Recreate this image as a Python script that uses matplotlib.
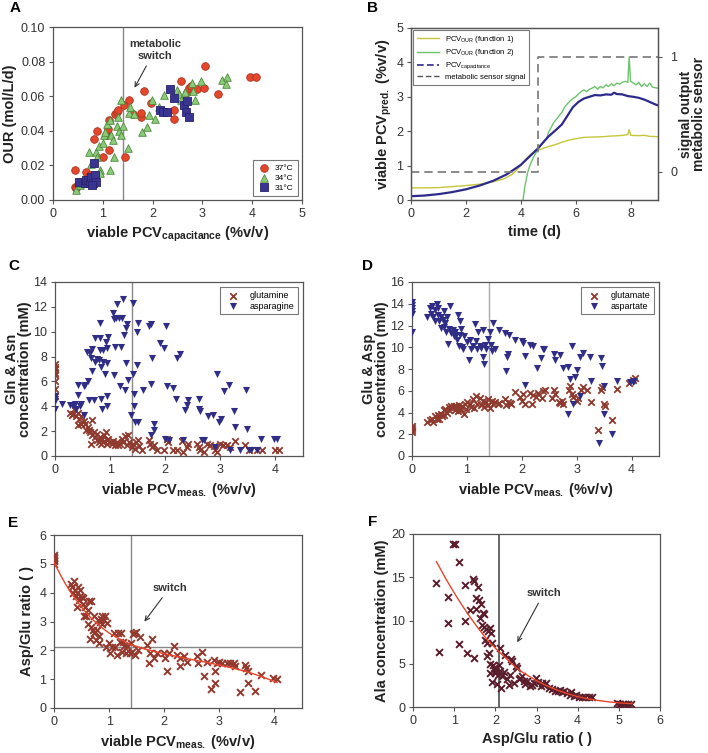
import numpy as np
import matplotlib.pyplot as plt
from matplotlib.lines import Line2D

plt.rcParams['font.family'] = ['Liberation Sans', 'DejaVu Sans']
plt.rcParams['mathtext.fontset'] = 'custom'
plt.rcParams['mathtext.rm'] = 'Liberation Sans'
plt.rcParams['mathtext.bf'] = 'Liberation Sans:bold'
plt.rcParams['mathtext.it'] = 'Liberation Sans:italic'

# ---------- panel A : OUR vs viable PCV (capacitance) ----------
a37_x = [0.44,0.44,0.47,0.50,0.57,0.64,0.67,0.74,0.80,0.83,0.89,1.00,1.07,1.10,1.13,1.12,1.24,1.28,1.31,1.42,1.44,
         1.53,1.61,1.76,1.77,1.83,1.96,2.57,2.42,2.42,2.70,2.73,2.77,2.89,3.03,3.05,3.32,3.95,4.08]
a37_y = [0.0173,0.0077,0.0067,0.0087,0.0096,0.0106,0.0163,0.0144,0.0106,0.035,0.040,0.025,0.0375,0.041,0.046,0.029,
         0.050,0.051,0.052,0.055,0.025,0.058,0.050,0.048,0.0505,0.063,0.056,0.069,0.052,0.047,0.0625,0.0645,0.066,
         0.064,0.065,0.0775,0.061,0.071,0.071]
a34_x = [0.47,0.54,0.59,0.72,0.77,0.87,0.89,0.92,0.94,0.95,1.00,1.02,1.05,1.09,1.14,1.15,1.17,1.21,1.22,1.28,1.31,
         1.33,1.36,1.36,1.40,1.51,1.53,1.54,1.62,1.78,1.88,1.93,1.99,2.05,2.13,2.23,2.48,2.54,2.58,2.66,2.79,2.82,
         2.85,2.97,3.39,3.49,3.47]
a34_y = [0.0058,0.0087,0.0096,0.028,0.021,0.028,0.025,0.031,0.0173,0.0154,0.0327,0.0375,0.0394,0.0438,0.046,0.0173,
         0.0375,0.0346,0.025,0.043,0.048,0.040,0.0577,0.0375,0.043,0.0298,0.0504,0.054,0.050,0.0394,0.042,0.049,
         0.0577,0.047,0.054,0.0606,0.0635,0.0615,0.058,0.0625,0.0677,0.063,0.058,0.0688,0.0696,0.071,0.0673]
a31_x = [0.52,0.64,0.66,0.70,0.74,0.77,0.81,0.83,0.85,0.87,0.79,2.15,2.21,2.28,2.35,2.43,2.64,2.70,2.68,2.74]
a31_y = [0.0106,0.0096,0.0115,0.0115,0.010,0.0135,0.0096,0.0215,0.0144,0.0106,0.0087,0.052,0.051,0.0506,0.0644,
         0.059,0.0548,0.057,0.0506,0.0477]

# ---------- panel B : predicted PCV over time ----------
t_cap = [0,0.5,1,1.5,2,2.5,3,3.5,4,4.3,4.6,5,5.3,5.5,5.7,5.9,6.1,6.3,6.5,6.7,6.9,7.1,7.3,7.4,7.5,7.7,7.9,8.1,
         8.3,8.5,8.7,8.9,9.0]
pcv_cap = [0.11,0.13,0.17,0.23,0.31,0.42,0.56,0.75,1.02,1.25,1.48,1.84,2.05,2.2,2.45,2.7,2.85,2.95,3.0,3.05,3.04,
           3.07,3.06,3.12,3.08,3.07,3.02,3.0,2.97,2.92,2.85,2.78,2.75]
t_f1 = [0,1,2,2.5,3,3.4,3.7,4.0,4.2,4.4,4.6,4.8,5.0,5.3,5.5,5.8,6.0,6.3,6.6,7.0,7.3,7.6,7.9,7.95,8.0,8.3,8.5,
        8.7,9.0]
pcv_f1 = [0.35,0.36,0.42,0.46,0.53,0.62,0.75,1.0,1.2,1.35,1.43,1.5,1.55,1.62,1.68,1.75,1.78,1.82,1.83,1.84,1.86,
          1.87,1.9,2.05,1.88,1.87,1.88,1.85,1.84]
t_f2 = [4.08,4.15,4.25,4.35,4.5,4.65,4.8,4.95,5.0,5.1,5.2,5.3,5.4,5.5,5.6,5.7,5.8,5.9,6.0,6.1,6.2,6.3,6.4,6.5,
        6.6,6.7,6.8,6.9,7.0,7.1,7.2,7.3,7.4,7.5,7.6,7.7,7.8,7.9,7.95,8.0,8.1,8.2,8.3,8.4,8.5,8.6,8.7,8.8,9.0]
pcv_f2 = [0.0,0.4,0.8,1.05,1.3,1.5,1.65,1.8,1.95,2.1,2.25,2.35,2.45,2.55,2.7,2.8,2.88,2.95,3.0,3.08,3.15,3.2,3.15,
          3.22,3.25,3.3,3.22,3.3,3.26,3.35,3.3,3.38,3.32,3.4,3.37,3.42,3.45,3.42,4.15,3.45,3.4,3.35,3.42,3.3,
          3.38,3.3,3.4,3.28,3.25]
t_sig = [0, 4.62, 4.62, 9.0]
sig = [0, 0, 1, 1]

# ---------- panel C : Gln & Asn ----------
asn_x = [0,0,0,0,0.12,0.28,0.32,0.36,0.38,0.41,0.41,0.45,0.48,0.52,0.52,0.55,0.58,0.59,0.61,0.64,0.65,0.67,0.68,
         0.70,0.72,0.73,0.76,0.79,0.81,0.82,0.82,0.83,0.84,0.85,0.87,0.88,0.91,0.93,0.94,0.94,0.95,0.97,0.95,1.06,
         1.07,1.09,1.11,1.12,1.07,1.17,1.19,1.18,1.21,1.23,1.25,1.27,1.29,1.30,1.29,1.33,1.38,1.41,1.42,1.44,1.44,
         1.45,1.50,1.48,1.48,1.50,1.59,1.71,1.74,1.74,1.76,1.79,1.74,1.80,1.90,1.98,2.02,2.03,2.00,2.06,2.14,2.19,
         2.21,2.27,2.32,2.36,2.39,2.42,2.61,2.61,2.63,2.67,2.71,2.77,2.87,2.91,2.94,2.97,3.01,3.07,3.15,3.24,3.27,
         3.47,3.48,3.52,3.56,3.67,3.74,3.97,4.03,3.18,3.36]
asn_y = [4.8,4.4,3.8,4.6,4.2,4.1,4.0,4.2,3.8,4.9,5.7,4.0,4.2,3.3,5.6,5.7,8.4,6.0,4.5,8.3,7.9,8.6,6.8,4.5,7.6,9.5,
         7.8,7.7,9.5,10.7,8.5,7.2,4.6,3.8,7.6,8.5,6.6,9.2,7.5,4.8,8.7,9.6,4.0,11.5,11.0,8.8,11.1,12.2,6.5,11.1,8.8,
         5.6,11.1,12.6,9.7,5.3,10.3,10.6,7.5,6.1,3.3,12.3,6.6,4.0,5.0,2.7,2.7,7.3,10.0,10.7,5.3,10.5,10.6,5.8,7.9,
         2.6,1.7,2.1,9.1,8.7,10.5,5.6,1.4,1.3,5.5,4.6,7.9,8.2,1.3,3.7,4.1,4.5,4.6,3.8,3.6,1.3,1.3,3.2,3.3,0.7,6.6,
         2.7,3.0,5.2,5.7,3.6,2.3,5.3,2.2,0.5,0.5,0.5,1.4,1.4,1.4,0.5,0.5]
gln_x = [0,0,0,0,0,0,0,0,0.28,0.30,0.33,0.36,0.38,0.41,0.42,0.44,0.47,0.48,0.52,0.55,0.56,0.59,0.62,0.64,0.65,
         0.67,0.68,0.71,0.73,0.76,0.77,0.79,0.81,0.82,0.84,0.85,0.87,0.89,0.93,0.94,0.95,0.97,1.00,1.03,1.06,1.09,
         1.12,1.15,1.18,1.21,1.24,1.27,1.30,1.33,1.35,1.39,1.42,1.45,1.47,1.50,1.53,1.58,1.70,1.72,1.76,1.80,1.85,
         1.97,2.03,2.05,2.15,2.21,2.30,2.32,2.39,2.42,2.58,2.61,2.64,2.70,2.76,2.82,2.88,2.91,2.94,3.00,3.05,3.12,
         3.18,3.27,3.45,3.52,3.67,3.76,4.00,4.06]
gln_y = [7.4,7.2,7.0,6.7,6.5,6.0,5.4,4.8,3.5,3.3,3.4,3.7,3.2,3.5,2.5,3.0,3.2,2.6,2.8,2.6,2.1,2.3,2.1,1.9,1.0,2.9,
         1.7,1.9,1.5,1.8,1.3,1.1,1.5,1.3,1.0,1.4,1.1,1.7,1.9,1.3,1.0,1.4,1.1,1.0,1.2,0.9,1.1,0.9,1.0,1.4,1.1,1.6,
         0.9,1.7,1.1,0.7,1.0,0.6,1.1,1.3,0.8,0.5,1.3,1.0,0.7,0.9,0.5,0.5,1.4,1.1,0.5,0.5,1.2,0.3,0.7,1.0,1.0,0.7,
         0.5,0.3,1.0,0.9,0.8,0.5,0.3,1.0,0.9,0.9,0.7,1.2,0.9,0.5,0.5,0.5,0.5,0.5]

# ---------- panel D : Glu & Asp ----------
asp_x = [0,0,0,0,0,0,0.27,0.32,0.35,0.36,0.39,0.41,0.42,0.45,0.47,0.48,0.50,0.52,0.53,0.56,0.58,0.59,0.61,0.62,
         0.64,0.65,0.67,0.70,0.71,0.74,0.76,0.78,0.80,0.82,0.83,0.85,0.87,0.88,0.89,0.91,0.93,0.94,1.00,1.03,1.05,
         1.07,1.11,1.15,1.17,1.19,1.21,1.23,1.25,1.29,1.30,1.32,1.33,1.35,1.39,1.42,1.44,1.45,1.48,1.52,1.58,1.70,
         1.73,1.74,1.76,1.72,1.88,2.00,2.03,2.06,2.06,2.15,2.21,2.27,2.35,2.38,2.41,2.58,2.61,2.70,2.76,2.85,2.88,
         2.85,2.91,2.94,2.97,3.01,3.06,3.12,3.24,3.27,3.06,3.44,3.47,3.50,3.50,3.41,3.64,3.74,3.97,4.02,4.05]
asp_y = [14.2,13.9,13.6,13.3,13.1,11.4,12.8,13.6,13.1,13.8,12.8,12.4,13.4,14.0,13.0,13.6,12.4,11.8,12.8,12.5,11.9,
         13.3,12.2,11.4,12.8,10.3,11.7,13.8,11.3,11.6,11.0,11.4,11.1,10.7,13.0,10.1,12.4,11.1,11.7,10.0,9.8,11.0,
         10.5,8.8,10.7,9.8,10.1,12.1,10.6,9.8,11.4,10.1,9.9,11.6,9.1,8.5,10.2,9.8,10.8,11.4,10.2,9.7,12.2,9.8,11.6,
         11.3,9.1,9.4,11.1,7.8,10.7,10.6,10.4,9.2,6.5,10.2,10.1,8.1,9.0,9.8,9.8,9.4,8.8,9.3,8.1,8.2,7.1,3.9,10.1,
         4.8,7.3,7.9,9.1,9.5,9.1,6.9,5.5,9.0,8.3,6.4,3.9,1.2,2.0,6.9,6.8,6.8,6.9]
glu_x = [0,0,0,0,0.27,0.32,0.36,0.39,0.42,0.45,0.48,0.50,0.53,0.55,0.58,0.59,0.61,0.64,0.67,0.68,0.71,0.73,0.76,
         0.78,0.81,0.83,0.85,0.87,0.89,0.91,0.94,0.96,0.99,1.01,1.05,1.07,1.11,1.13,1.17,1.19,1.23,1.25,1.29,1.32,
         1.35,1.38,1.39,1.42,1.45,1.48,1.52,1.56,1.59,1.70,1.72,1.74,1.78,1.80,1.88,1.97,2.00,2.02,2.06,2.15,2.18,
         2.21,2.26,2.30,2.36,2.39,2.42,2.55,2.58,2.61,2.67,2.70,2.73,2.76,2.86,2.88,2.91,2.94,3.00,3.03,3.07,3.12,
         3.18,3.26,3.39,3.44,3.47,3.50,3.52,3.64,3.74,3.96,4.03,4.06]
glu_y = [2.8,2.6,2.4,2.2,3.1,3.3,3.4,3.1,3.7,3.4,3.8,3.4,3.9,3.7,4.2,3.8,4.3,4.0,4.5,4.2,4.6,4.4,4.6,4.2,4.6,4.1,
         4.7,4.4,4.2,4.6,3.9,4.8,4.3,5.0,4.8,4.5,5.2,4.4,5.5,4.8,5.3,4.7,5.1,4.5,5.0,5.2,4.7,4.4,5.1,4.8,5.0,4.8,
         4.9,5.2,4.7,5.0,4.9,4.8,5.9,5.4,5.1,5.7,4.8,5.8,4.8,5.6,5.4,5.8,5.3,6.0,6.1,5.3,6.1,5.7,5.0,4.9,5.1,4.8,
         6.1,6.4,5.7,5.4,5.1,5.3,6.1,6.3,6.1,5.0,2.4,6.1,6.3,4.8,4.6,3.3,6.2,6.7,7.0,7.2]

# ---------- panel E : Asp/Glu ratio ----------
ratio_x = [0,0,0,0,0,0,0.30,0.32,0.34,0.36,0.38,0.40,0.41,0.42,0.44,0.46,0.47,0.48,0.50,0.52,0.53,0.55,0.56,0.58,
           0.61,0.62,0.64,0.65,0.67,0.68,0.70,0.72,0.73,0.75,0.76,0.78,0.79,0.81,0.82,0.84,0.85,0.87,0.88,0.91,
           0.93,0.95,0.96,0.99,1.01,1.05,1.08,1.11,1.15,1.17,1.19,1.21,1.23,1.26,1.27,1.31,1.33,1.37,1.39,1.41,
           1.43,1.45,1.47,1.49,1.52,1.56,1.68,1.72,1.74,1.78,1.81,1.87,1.99,2.02,2.05,2.08,2.17,2.23,2.29,2.29,
           2.35,2.41,2.59,2.62,2.68,2.73,2.78,2.85,2.90,2.92,2.93,2.96,2.99,3.05,3.14,3.20,3.26,3.29,3.38,3.47,
           3.49,3.52,3.52,3.65,3.75,3.97,4.05]
ratio_y = [5.3,5.2,5.1,5.0,5.15,5.25,4.3,4.2,4.0,4.4,4.1,3.9,3.5,4.0,4.2,3.75,3.9,4.1,3.85,3.6,3.8,3.2,3.5,3.2,
           3.4,2.9,3.7,2.4,2.8,3.7,2.7,3.2,2.6,2.65,2.35,2.7,3.05,2.5,2.25,3.0,3.1,2.9,3.2,3.05,3.2,2.1,2.95,2.25,
           1.9,2.1,2.6,2.1,1.85,2.6,2.3,2.6,1.95,2.3,2.15,1.9,2.15,1.9,2.25,1.95,2.55,2.6,1.85,2.65,2.0,2.45,2.2,
           1.55,1.9,2.4,1.75,1.9,1.9,1.75,1.3,1.9,2.15,1.85,1.75,1.45,1.8,1.6,1.8,1.55,1.95,1.1,1.6,0.65,1.65,1.3,
           0.85,1.55,1.6,1.55,1.55,1.55,1.55,1.45,0.55,1.5,1.4,1.3,0.85,0.6,1.15,1.05,1.0]
fitE_x = [0,0.1,0.2,0.3,0.4,0.5,0.6,0.7,0.8,0.9,1.0,1.2,1.4,1.6,1.8,2.0,2.25,2.5,2.75,3.0,3.25,3.5,3.75,4.0,4.05]
fitE_y = [5.05,4.68,4.33,4.02,3.75,3.5,3.27,3.07,2.9,2.74,2.6,2.38,2.2,2.07,1.97,1.88,1.78,1.68,1.59,1.49,1.38,
          1.26,1.1,0.92,0.89]

# ---------- panel F : Ala vs Asp/Glu ratio ----------
ala_x = [0.97,1.01,1.11,0.57,0.84,0.62,0.84,1.11,1.27,1.27,1.31,1.39,1.47,1.46,1.49,1.52,1.54,1.57,1.60,1.62,1.64,
         1.68,1.70,1.72,1.73,1.76,1.78,1.80,1.80,1.82,1.84,1.86,1.88,1.88,1.90,1.92,1.92,1.94,1.96,1.98,2.00,2.03,
         2.06,2.08,2.11,2.12,2.14,2.16,2.20,2.24,2.28,2.33,2.35,2.37,2.41,2.45,2.49,2.53,2.57,2.61,2.65,2.69,2.73,
         2.77,2.84,2.89,2.93,2.99,3.03,3.10,3.14,3.18,3.22,3.30,3.38,3.46,3.52,3.58,3.62,3.68,3.74,3.81,3.84,3.91,
         3.97,4.03,4.11,4.19,4.27,4.35,4.96,5.00,5.04,5.11,5.16,5.22,5.30]
ala_y = [18.8,18.8,16.8,14.3,12.7,6.4,9.7,7.3,14.1,9.9,6.2,11.2,5.7,14.8,14.6,11.3,12.6,13.9,12.4,10.3,11.9,9.5,
         10.9,10.7,9.2,7.8,9.0,5.9,7.4,8.8,6.2,5.0,9.1,3.9,8.6,7.4,2.9,4.9,4.5,3.9,4.2,2.7,3.7,4.8,6.8,4.2,2.2,3.6,
         4.1,6.0,3.2,2.6,3.7,5.5,5.3,2.8,4.7,4.5,3.2,3.4,3.6,3.0,2.7,3.0,2.4,2.6,2.8,3.4,2.9,2.4,2.8,2.6,2.8,2.2,
         2.1,1.9,1.9,2.0,1.7,1.8,1.6,1.4,1.7,1.3,1.4,1.2,1.2,1.2,1.2,1.2,0.46,0.4,0.4,0.4,0.4,0.4,0.4]
fitF_x = [0.57,0.8,1.0,1.2,1.4,1.6,1.8,2.0,2.2,2.4,2.6,2.8,3.0,3.25,3.5,3.75,4.0,4.25,4.5,4.75,5.0,5.32]
fitF_y = [16.8,14.8,13.2,11.7,10.3,9.0,7.8,6.8,5.9,5.0,4.2,3.6,3.05,2.45,1.95,1.55,1.2,0.95,0.75,0.6,0.48,0.38]

W, H = 708, 753
fig = plt.figure(figsize=(W / 100, H / 100), dpi=100)


def box(x0, y0, x1, y1):
    return [x0 / W, 1 - y1 / H, (x1 - x0) / W, (y1 - y0) / H]


def style(ax):
    for s in ax.spines.values():
        s.set_color('#555555')
        s.set_linewidth(0.9)
    ax.tick_params(labelsize=9, colors='#555555', labelcolor='#333333', direction='out', length=3,
                   top=False, right=False, pad=2.5)


lab = dict(fontsize=10.5, fontweight='bold', color='#222222')
red_x = '#8e3a2e'
navy = '#2f2d86'

# A
ax = fig.add_axes(box(53, 27, 302, 200))
style(ax)
ax.axvline(1.4, color='#888888', lw=1.0)
ax.scatter(a37_x, a37_y, s=30, marker='o', facecolor='#e5472c', edgecolor='#a83220', lw=0.6, label='37°C', zorder=3)
ax.scatter(a34_x, a34_y, s=30, marker='^', facecolor='#8ccb78', edgecolor='#4c8a3c', lw=0.6, label='34°C', zorder=3)
ax.scatter(a31_x, a31_y, s=26, marker='s', facecolor='#3b3592', edgecolor='#28226e', lw=0.6, label='31°C', zorder=3)
ax.set_xlim(0, 5)
ax.set_ylim(0, 0.10)
ax.set_yticks([0, 0.02, 0.04, 0.06, 0.08, 0.10])
ax.yaxis.set_major_formatter(plt.FormatStrFormatter('%.2f'))
ax.set_xlabel(r'viable PCV$_{\mathbf{capacitance}}$ (%v/v)', **lab)
ax.set_ylabel('OUR (mol/L/d)', labelpad=3, **lab)
ax.annotate('metabolic\nswitch', xy=(1.61, 0.0635), xytext=(2.05, 0.0805), ha='center', va='bottom',
            fontsize=8, fontweight='bold', color='#333333',
            arrowprops=dict(arrowstyle='->', color='#333333', lw=0.8))
lg = ax.legend(loc='lower right', fontsize=6, frameon=True, fancybox=False, edgecolor='#555555',
               borderpad=0.5, handletextpad=0.6, labelspacing=0.25, handlelength=1.5, borderaxespad=0.5)
lg.get_frame().set_linewidth(0.8)

# B
ax = fig.add_axes(box(411, 28, 658, 200))
style(ax)
ax.plot(t_f1, pcv_f1, color='#c6c63c', lw=1.0)
ax.plot(t_f2, pcv_f2, color='#6cc46c', lw=1.0)
ax.plot(t_cap, pcv_cap, color='#2e2a8c', lw=1.6)
ax.set_xlim(0, 9)
ax.set_ylim(0, 5)
ax.set_xticks([0, 2, 4, 6, 8])
ax.set_xlabel('time (d)', **lab)
ax.set_ylabel(r'viable PCV$_{\mathbf{pred.}}$ (%v/v)', labelpad=2, **lab)
ax2 = ax.twinx()
style(ax2)
ax2.tick_params(right=True, left=False, pad=6)
ax2.plot(t_sig, sig, color='#777777', lw=1.2, ls=(0, (5, 3)))
ax2.set_ylim(-0.246, 1.252)
ax2.set_yticks([0, 1])
ax2.set_ylabel('signal output\nmetabolic sensor', labelpad=1, linespacing=0.9, fontsize=10,
               fontweight='bold', color='#222222')
handles = [Line2D([], [], color='#c6c63c', lw=1.0), Line2D([], [], color='#6cc46c', lw=1.0),
           Line2D([], [], color='#2e2a8c', lw=1.2, ls=(0, (4, 2))), Line2D([], [], color='#555555', lw=1.0, ls=(0, (4, 2)))]
names = [r'PCV$_{\mathrm{OUR}}$ (function 1)', r'PCV$_{\mathrm{OUR}}$ (function 2)',
         r'PCV$_{\mathrm{capacitance}}$', 'metabolic sensor signal']
lg = ax.legend(handles, names, loc='upper left', fontsize=5.5, frameon=True, fancybox=False, edgecolor='#555555',
               borderpad=0.5, handlelength=2.8, labelspacing=0.3, borderaxespad=0.3)
lg.get_frame().set_linewidth(0.8)

# C
ax = fig.add_axes(box(55, 282, 303, 456))
style(ax)
ax.axvline(1.4, color='#888888', lw=1.0)
ax.scatter(gln_x, gln_y, s=22, marker='x', color=red_x, lw=1.3, label='glutamine', zorder=3)
ax.scatter(asn_x, asn_y, s=26, marker='v', color=navy, lw=0, label='asparagine', zorder=3)
ax.set_xlim(0, 4.5)
ax.set_ylim(0, 14)
ax.set_xticks([0, 1, 2, 3, 4])
ax.set_yticks(range(0, 15, 2))
ax.set_xlabel(r'viable PCV$_{\mathbf{meas.}}$ (%v/v)', **lab)
ax.set_ylabel('Gln & Asn\nconcentration (mM)', labelpad=1, linespacing=0.95, **lab)
lg = ax.legend(loc='upper right', fontsize=6.5, frameon=True, fancybox=False, edgecolor='#555555',
               borderpad=0.4, labelspacing=0.2, borderaxespad=0.6, handletextpad=0.8)
lg.get_frame().set_linewidth(0.8)

# D
ax = fig.add_axes(box(412, 282, 659, 456))
style(ax)
ax.axvline(1.4, color='#aaaaaa', lw=1.0)
ax.scatter(glu_x, glu_y, s=22, marker='x', color=red_x, lw=1.3, label='glutamate', zorder=3)
ax.scatter(asp_x, asp_y, s=26, marker='v', color=navy, lw=0, label='aspartate', zorder=3)
ax.set_xlim(0, 4.5)
ax.set_ylim(0, 16)
ax.set_xticks([0, 1, 2, 3, 4])
ax.set_yticks(range(0, 17, 2))
ax.set_xlabel(r'viable PCV$_{\mathbf{meas.}}$ (%v/v)', **lab)
ax.set_ylabel('Glu & Asp\nconcentration (mM)', labelpad=1, linespacing=0.95, **lab)
lg = ax.legend(loc='upper right', fontsize=6.5, frameon=True, fancybox=False, edgecolor='#555555',
               borderpad=0.4, labelspacing=0.2, borderaxespad=0.6, handletextpad=0.8)
lg.get_frame().set_linewidth(0.8)

# E
ax = fig.add_axes(box(54, 535, 302, 708))
style(ax)
ax.axvline(1.4, color='#888888', lw=1.0)
ax.axhline(2.12, color='#888888', lw=1.0)
ax.scatter(ratio_x, ratio_y, s=24, marker='x', color='#93392e', lw=1.4, zorder=3)
ax.plot(fitE_x, fitE_y, color='#e8452c', lw=1.0, zorder=4)
ax.set_xlim(0, 4.5)
ax.set_ylim(0, 6)
ax.set_xticks([0, 1, 2, 3, 4])
ax.set_xlabel(r'viable PCV$_{\mathbf{meas.}}$ (%v/v)', **lab)
ax.set_ylabel('Asp/Glu ratio ( )', labelpad=4, **lab)
ax.annotate('switch', xy=(1.61, 2.92), xytext=(2.1, 4.0), ha='center', va='bottom', fontsize=8,
            fontweight='bold', color='#333333', arrowprops=dict(arrowstyle='->', color='#333333', lw=0.8))

# F
ax = fig.add_axes(box(413, 534, 660, 707))
style(ax)
ax.axvline(2.1, color='#666666', lw=1.4)
ax.scatter(ala_x, ala_y, s=24, marker='x', color='#5a1d2b', lw=1.4, zorder=3)
ax.plot(fitF_x, fitF_y, color='#e8452c', lw=1.0, zorder=4)
ax.set_xlim(0, 6)
ax.set_ylim(0, 20)
ax.set_yticks([0, 5, 10, 15, 20])
ax.set_xlabel('Asp/Glu ratio ( )', **lab)
ax.set_ylabel('Ala concentration (mM)', labelpad=2, **lab)
ax.annotate('switch', xy=(2.5, 7.2), xytext=(3.18, 12.6), ha='center', va='bottom', fontsize=8,
            fontweight='bold', color='#333333', arrowprops=dict(arrowstyle='->', color='#333333', lw=0.8))

for letter, x, y in [('A', 10, 8), ('B', 367, 8), ('C', 8, 266), ('D', 362, 266), ('E', 8, 523), ('F', 368, 522)]:
    fig.text(x / W, 1 - y / H, letter, fontsize=11, fontweight='bold', ha='left', va='center')

fig.savefig('out.png', dpi=100)
